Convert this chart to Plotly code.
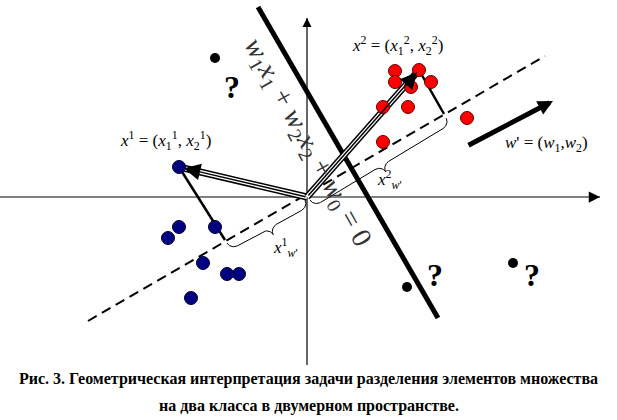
import numpy as np
import plotly.graph_objects as go

# ---- data (coordinates: origin at the axes intersection, y up, 1 unit = 1 px) ----
red_x = [88, 112, 88, 104, 124, 76, 101, 76, 160]
red_y = [126, 127, 115, 110, 115, 90, 90, 55, 79]
blue_x = [-128, -128, -139, -92, -104, -80, -68, -116]
blue_y = [30, -30, -41, -30, -66, -77, -77, -101]
unknown_x = [-92, 100, 206]
unknown_y = [139, -90, -66]
question_x = [-75, 128, 225]
question_y = [107, -81, -81]

separator_x = [-49, 131]
separator_y = [190, -121]
dashed_x = [-219, 238]
dashed_y = [-124, 141]

x1_point = [-128, 30]
x2_point = [112, 127]
proj1 = [-82, -43]
proj2 = [137, 83]
brace1 = [[-80, -46], [-2, -3]]
brace2 = [[3, -3], [139, 79]]
w_start = [160, 51]
w_end = [246, 96]

haxis_x = [-307, 293]
vaxis_y = [-168, 179]

caption1 = "Рис. 3. Геометрическая интерпретация задачи разделения элементов множества"
caption2 = "на два класса в двумерном пространстве."

SERIF = "Liberation Serif"


def brace_path(A, B, h=15.0, q=8.0, n=24):
    A = np.array(A, float)
    B = np.array(B, float)
    d = B - A
    L = np.linalg.norm(d)
    u = d / L
    nv = np.array([u[1], -u[0]])
    q = min(q, L / 4)
    th = np.linspace(0, np.pi / 2, n)
    t1 = q * (1 - np.cos(th)); v1 = h / 2 * np.sin(th)
    t2 = L / 2 - q + q * np.sin(th); v2 = h / 2 + h / 2 * (1 - np.cos(th))
    t = np.concatenate([t1, t2]); v = np.concatenate([v1, v2])
    t = np.concatenate([t, (L - t)[::-1]]); v = np.concatenate([v, v[::-1]])
    pts = A[None, :] + t[:, None] * u[None, :] + v[:, None] * nv[None, :]
    return pts[:, 0], pts[:, 1]


fig = go.Figure()


def line(xs, ys, color="black", width=1.5, dash=None):
    fig.add_trace(go.Scatter(x=xs, y=ys, mode="lines",
                             line=dict(color=color, width=width, dash=dash),
                             hoverinfo="skip", showlegend=False))


# axes
line(haxis_x, [0, 0], color="#808080", width=2)
line([0, 0], vaxis_y, color="black", width=1.2)

# dashed projection axis
line(dashed_x, dashed_y, color="black", width=2, dash="10px,6px")

# separating line
line(separator_x, separator_y, color="black", width=5)

# projection lines
line([x1_point[0], proj1[0]], [x1_point[1], proj1[1]], width=2.5)
line([x2_point[0], proj2[0]], [x2_point[1], proj2[1]], width=2.5)

# braces
for b in (brace1, brace2):
    bx, by = brace_path(b[0], b[1])
    line(list(bx), list(by), width=1)

# triple-line vectors
for p in (x1_point, x2_point):
    line([0, p[0]], [0, p[1]], color="black", width=7)
    line([0, p[0]], [0, p[1]], color="white", width=4)

# points
fig.add_trace(go.Scatter(x=red_x, y=red_y, mode="markers",
                         marker=dict(size=13, color="#ff0000", line=dict(color="#600000", width=1)),
                         hoverinfo="skip", showlegend=False))
fig.add_trace(go.Scatter(x=blue_x, y=blue_y, mode="markers",
                         marker=dict(size=13, color="#000080", line=dict(color="#000030", width=1)),
                         hoverinfo="skip", showlegend=False))
fig.add_trace(go.Scatter(x=unknown_x, y=unknown_y, mode="markers",
                         marker=dict(size=10, color="black"),
                         hoverinfo="skip", showlegend=False))
fig.add_trace(go.Scatter(x=question_x, y=question_y, mode="text", text=["?"] * len(question_x),
                         textfont=dict(family=SERIF, size=32, color="black", weight="bold"),
                         hoverinfo="skip", showlegend=False))

ann = []


def arrow(tip, tail, width=1.5, size=1.0, head=2, standoff=0, color="black"):
    ann.append(dict(x=tip[0], y=tip[1], ax=tail[0], ay=tail[1], xref="x", yref="y",
                    axref="x", ayref="y", showarrow=True, arrowhead=head, arrowsize=size,
                    arrowwidth=width, arrowcolor=color, standoff=standoff, text=""))


arrow(x1_point, [0, 0], width=1.5, size=2.2, standoff=5)
arrow(x2_point, [0, 0], width=1.5, size=2.2, standoff=3)
arrow(w_end, w_start, width=5, size=0.6, head=2)
arrow([haxis_x[1], 0], [haxis_x[1] - 10, 0], width=1.5, size=1.5)
arrow([0, vaxis_y[1]], [0, vaxis_y[1] - 10], width=1.2, size=1.5)


def label(x, y, text, size=17, angle=0, color="black"):
    ann.append(dict(x=x, y=y, xref="x", yref="y", text=text, showarrow=False,
                    textangle=angle, font=dict(family=SERIF, size=size, color=color)))


label(-142, 57, "<i>x</i><sup>1</sup> = (<i>x</i><sub>1</sub><sup>1</sup>, <i>x</i><sub>2</sub><sup>1</sup>)")
label(90, 152, "<i>x</i><sup>2</sup> = (<i>x</i><sub>1</sub><sup>2</sup>, <i>x</i><sub>2</sub><sup>2</sup>)")
label(239, 53, "<i>w</i>' = (<i>w</i><sub>1</sub>,<i>w</i><sub>2</sub>)")
label(-22, -50, "<i>x</i><sup>1</sup><sub><i>w</i>'</sub>", size=17)
label(82, 18, "<i>x</i><sup>2</sup><sub><i>w</i>'</sub>", size=17)
label(0, 55, "<i>w</i><sub>1</sub><i>x</i><sub>1</sub> + <i>w</i><sub>2</sub><i>x</i><sub>2</sub> + <i>w</i><sub>0</sub> = 0",
      size=28, angle=61, color="#333333")

ann.append(dict(x=0.5, y=1 - 379 / 420, xref="paper", yref="paper", yanchor="middle",
                text="<b>" + caption1 + "</b>",
                showarrow=False, font=dict(family=SERIF, size=16, color="black")))
ann.append(dict(x=0.5, y=1 - 406 / 420, xref="paper", yref="paper", yanchor="middle",
                text="<b>" + caption2 + "</b>",
                showarrow=False, font=dict(family=SERIF, size=16, color="black")))

fig.update_layout(
    width=617, height=420,
    margin=dict(l=0, r=0, t=0, b=0, pad=0),
    paper_bgcolor="white", plot_bgcolor="white",
    xaxis=dict(range=[-307, 310], visible=False, fixedrange=True),
    yaxis=dict(range=[-223, 197], visible=False, fixedrange=True),
    annotations=ann,
)

fig.write_html("out.html", config={"displayModeBar": False},
               post_script="document.body.style.margin='0';document.body.style.overflow='hidden';")
